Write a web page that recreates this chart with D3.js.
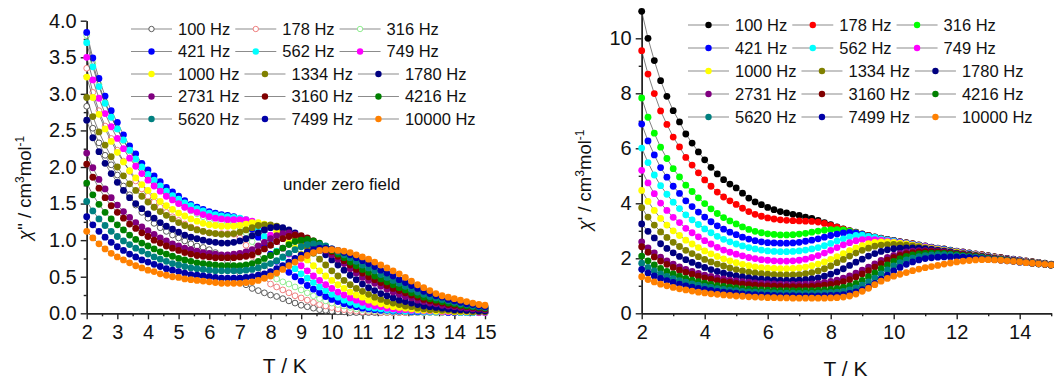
<!DOCTYPE html>
<html>
<head>
<meta charset="utf-8">
<script src="https://cdn.jsdelivr.net/npm/d3@7/dist/d3.min.js"></script>
<style>
  body { margin: 0; background: #fff; }
  svg { display: block; font-family: "Liberation Sans", Arial, sans-serif; }
</style>
</head>
<body>
<svg id="chart"></svg>
<script>
var W = 1054, H = 379;

// temperature grid (K)
var temps = [2.0,2.2,2.4,2.6,2.8,3.0,3.2,3.4,3.6,3.8,
  4.0,4.2,4.4,4.6,4.8,5.0,5.2,5.4,5.6,5.8,
  6.0,6.2,6.4,6.6,6.8,7.0,7.2,7.4,7.6,7.8,
  8.0,8.2,8.4,8.6,8.8,9.0,9.2,9.4,9.6,9.8,
  10.0,10.2,10.4,10.6,10.8,11.0,11.2,11.4,11.6,11.8,
  12.0,12.2,12.4,12.6,12.8,13.0,13.2,13.4,13.6,13.8,
  14.0,14.2,14.4,14.6,14.8,15.0];

var freqs = ['100 Hz','178 Hz','316 Hz','421 Hz','562 Hz','749 Hz','1000 Hz','1334 Hz','1780 Hz',
  '2731 Hz','3160 Hz','4216 Hz','5620 Hz','7499 Hz','10000 Hz'];

// chi'' (left panel)
var chi2_100 = [2.83,2.53,2.33,2.16,2.03,1.89,1.74,1.62,1.48,1.38,
  1.30,1.23,1.17,1.12,1.07,1.03,0.99,0.95,0.92,0.90,
  0.87,0.83,0.78,0.71,0.61,0.48,0.39,0.34,0.31,0.28,
  0.25,0.23,0.20,0.17,0.14,0.11,0.09,0.07,0.05,0.04,
  0.03,0.02,0.02,0.01,0.01,0.01,0.01,0.01,0.01,0.01,
  0.01,0.01,0.01,0.01,0.01,0.01,0.01,0.01,0.01,0.01,
  0.01,0.01,0.01,0.01,0.01,0.01];
var chi2_178 = [3.35,3.02,2.77,2.56,2.39,2.23,2.08,1.94,1.81,1.70,
  1.60,1.52,1.45,1.38,1.32,1.27,1.22,1.18,1.15,1.12,
  1.10,1.09,1.09,1.09,1.08,1.03,0.93,0.78,0.62,0.48,
  0.40,0.36,0.32,0.28,0.24,0.21,0.18,0.15,0.12,0.10,
  0.08,0.06,0.05,0.04,0.03,0.02,0.02,0.02,0.01,0.01,
  0.01,0.01,0.01,0.01,0.01,0.01,0.01,0.01,0.01,0.01,
  0.01,0.01,0.01,0.01,0.01,0.01];
var chi2_316 = [3.80,3.42,3.13,2.89,2.69,2.52,2.36,2.22,2.09,1.97,
  1.87,1.78,1.70,1.62,1.56,1.50,1.45,1.40,1.36,1.32,
  1.29,1.27,1.25,1.24,1.22,1.18,1.10,0.98,0.83,0.68,
  0.55,0.47,0.43,0.40,0.36,0.32,0.28,0.24,0.20,0.17,
  0.14,0.12,0.10,0.08,0.06,0.05,0.04,0.03,0.03,0.02,
  0.02,0.02,0.02,0.01,0.01,0.01,0.01,0.01,0.01,0.01,
  0.01,0.01,0.01,0.01,0.01,0.01];
var chi2_421 = [3.84,3.49,3.21,2.97,2.77,2.61,2.44,2.29,2.18,2.05,
  1.96,1.88,1.80,1.72,1.66,1.60,1.54,1.49,1.45,1.42,
  1.39,1.37,1.35,1.34,1.32,1.29,1.24,1.15,1.04,0.92,
  0.81,0.71,0.63,0.56,0.50,0.44,0.38,0.33,0.28,0.23,
  0.19,0.16,0.13,0.11,0.09,0.07,0.06,0.05,0.04,0.04,
  0.03,0.03,0.03,0.02,0.02,0.02,0.02,0.02,0.02,0.01,
  0.01,0.01,0.01,0.01,0.01,0.01];
var chi2_562 = [3.70,3.37,3.10,2.87,2.68,2.52,2.37,2.23,2.11,2.00,
  1.90,1.82,1.74,1.67,1.61,1.56,1.51,1.47,1.43,1.40,
  1.37,1.35,1.33,1.32,1.31,1.30,1.28,1.23,1.15,1.05,
  0.95,0.85,0.76,0.68,0.61,0.54,0.48,0.42,0.36,0.31,
  0.26,0.22,0.18,0.15,0.12,0.10,0.08,0.07,0.06,0.05,
  0.04,0.04,0.03,0.03,0.03,0.02,0.02,0.02,0.02,0.02,
  0.02,0.01,0.01,0.01,0.01,0.01];
var chi2_749 = [3.50,3.19,2.94,2.73,2.55,2.39,2.25,2.12,2.01,1.91,
  1.82,1.74,1.67,1.60,1.55,1.50,1.45,1.41,1.38,1.35,
  1.32,1.30,1.29,1.28,1.28,1.28,1.28,1.26,1.22,1.15,
  1.07,0.98,0.89,0.81,0.73,0.65,0.58,0.51,0.45,0.39,
  0.34,0.29,0.25,0.21,0.18,0.15,0.12,0.10,0.09,0.07,
  0.06,0.05,0.05,0.04,0.04,0.03,0.03,0.03,0.02,0.02,
  0.02,0.02,0.02,0.02,0.01,0.01];
var chi2_1000 = [3.23,2.95,2.72,2.52,2.35,2.20,2.07,1.95,1.85,1.76,
  1.68,1.60,1.53,1.47,1.42,1.37,1.33,1.29,1.26,1.23,
  1.21,1.20,1.19,1.19,1.19,1.20,1.22,1.24,1.24,1.22,
  1.18,1.12,1.05,0.97,0.89,0.81,0.73,0.65,0.58,0.51,
  0.45,0.39,0.34,0.29,0.25,0.22,0.18,0.15,0.13,0.11,
  0.09,0.08,0.07,0.06,0.05,0.04,0.04,0.03,0.03,0.03,
  0.02,0.02,0.02,0.02,0.02,0.02];
var chi2_1334 = [2.95,2.69,2.48,2.30,2.14,2.00,1.88,1.77,1.68,1.60,
  1.52,1.45,1.39,1.34,1.29,1.24,1.20,1.17,1.14,1.12,
  1.10,1.09,1.08,1.08,1.09,1.11,1.14,1.17,1.20,1.21,
  1.21,1.19,1.15,1.10,1.04,0.97,0.90,0.82,0.74,0.66,
  0.58,0.51,0.45,0.39,0.34,0.30,0.26,0.22,0.19,0.16,
  0.14,0.12,0.10,0.09,0.07,0.06,0.05,0.05,0.04,0.04,
  0.03,0.03,0.03,0.02,0.02,0.02];
var chi2_1780 = [2.64,2.40,2.21,2.05,1.91,1.79,1.68,1.58,1.50,1.43,
  1.36,1.30,1.24,1.19,1.15,1.11,1.07,1.04,1.02,1.00,
  0.98,0.97,0.96,0.96,0.97,0.99,1.02,1.06,1.10,1.14,
  1.17,1.18,1.17,1.14,1.10,1.05,0.99,0.93,0.86,0.80,
  0.73,0.66,0.59,0.52,0.46,0.40,0.35,0.31,0.27,0.24,
  0.21,0.18,0.16,0.14,0.12,0.10,0.09,0.08,0.07,0.06,
  0.05,0.05,0.04,0.04,0.03,0.03];
var chi2_2731 = [2.19,1.99,1.83,1.70,1.58,1.48,1.39,1.31,1.24,1.18,
  1.13,1.08,1.03,0.99,0.95,0.92,0.89,0.87,0.85,0.83,
  0.82,0.81,0.80,0.80,0.81,0.82,0.84,0.87,0.92,0.97,
  1.02,1.06,1.09,1.10,1.08,1.05,1.01,0.96,0.91,0.86,
  0.80,0.74,0.68,0.61,0.55,0.49,0.45,0.41,0.37,0.33,
  0.29,0.26,0.23,0.21,0.18,0.16,0.14,0.13,0.11,0.10,
  0.09,0.08,0.07,0.06,0.06,0.05];
var chi2_3160 = [2.04,1.86,1.71,1.58,1.47,1.38,1.30,1.22,1.16,1.10,
  1.05,1.00,0.96,0.92,0.89,0.86,0.83,0.81,0.79,0.78,
  0.77,0.76,0.76,0.76,0.76,0.77,0.78,0.80,0.84,0.88,
  0.93,0.98,1.02,1.05,1.07,1.06,1.03,0.99,0.94,0.89,
  0.84,0.78,0.72,0.66,0.60,0.55,0.50,0.46,0.42,0.38,
  0.34,0.31,0.28,0.25,0.22,0.19,0.17,0.15,0.14,0.12,
  0.11,0.10,0.09,0.08,0.07,0.06];
var chi2_4216 = [1.78,1.62,1.49,1.38,1.29,1.21,1.14,1.07,1.01,0.96,
  0.92,0.88,0.84,0.81,0.78,0.75,0.73,0.71,0.69,0.68,
  0.67,0.66,0.65,0.65,0.65,0.65,0.66,0.68,0.71,0.75,
  0.79,0.84,0.89,0.94,0.98,1.00,1.01,0.99,0.96,0.91,
  0.86,0.81,0.76,0.70,0.65,0.60,0.56,0.51,0.47,0.43,
  0.39,0.35,0.32,0.28,0.25,0.22,0.20,0.18,0.16,0.14,
  0.13,0.11,0.10,0.09,0.08,0.07];
var chi2_5620 = [1.53,1.40,1.29,1.20,1.12,1.05,0.99,0.94,0.89,0.85,
  0.81,0.77,0.74,0.71,0.68,0.66,0.64,0.62,0.61,0.60,
  0.59,0.58,0.58,0.58,0.58,0.58,0.59,0.60,0.62,0.65,
  0.68,0.72,0.77,0.82,0.87,0.91,0.94,0.95,0.94,0.92,
  0.88,0.84,0.80,0.76,0.71,0.66,0.62,0.58,0.53,0.49,
  0.45,0.41,0.37,0.33,0.29,0.26,0.23,0.21,0.19,0.17,
  0.15,0.13,0.12,0.10,0.09,0.08];
var chi2_7499 = [1.32,1.21,1.12,1.04,0.97,0.91,0.86,0.81,0.77,0.73,
  0.70,0.67,0.64,0.61,0.59,0.57,0.55,0.53,0.52,0.51,
  0.50,0.49,0.48,0.48,0.48,0.48,0.49,0.50,0.52,0.54,
  0.57,0.61,0.65,0.70,0.75,0.80,0.84,0.87,0.89,0.89,
  0.88,0.86,0.83,0.80,0.76,0.72,0.68,0.64,0.59,0.55,
  0.51,0.46,0.42,0.38,0.34,0.30,0.27,0.24,0.22,0.19,
  0.17,0.15,0.13,0.12,0.10,0.09];
var chi2_10000 = [1.12,1.03,0.95,0.88,0.82,0.77,0.73,0.69,0.65,0.62,
  0.59,0.57,0.54,0.52,0.50,0.49,0.47,0.46,0.45,0.44,
  0.43,0.42,0.41,0.41,0.41,0.41,0.42,0.43,0.45,0.48,
  0.51,0.55,0.60,0.65,0.70,0.75,0.79,0.83,0.86,0.87,
  0.87,0.86,0.85,0.83,0.80,0.77,0.74,0.70,0.66,0.62,
  0.58,0.54,0.49,0.44,0.39,0.35,0.31,0.27,0.24,0.22,
  0.20,0.18,0.16,0.14,0.12,0.11];

// chi' (right panel)
var chi1_100 = [10.98,10.00,9.19,8.46,7.89,7.37,6.96,6.52,6.19,5.87,
  5.58,5.31,5.07,4.86,4.70,4.56,4.37,4.19,4.05,3.95,
  3.85,3.77,3.70,3.65,3.60,3.56,3.50,3.45,3.38,3.30,
  3.22,3.14,3.07,3.01,2.95,2.89,2.83,2.78,2.73,2.69,
  2.65,2.61,2.57,2.53,2.49,2.45,2.41,2.37,2.34,2.30,
  2.26,2.23,2.20,2.16,2.13,2.10,2.06,2.03,2.00,1.97,
  1.94,1.91,1.88,1.85,1.82,1.79];
var chi1_178 = [9.55,8.70,7.99,7.36,6.87,6.41,6.05,5.67,5.39,5.11,
  4.85,4.62,4.41,4.23,4.09,3.96,3.82,3.70,3.60,3.53,
  3.47,3.43,3.40,3.38,3.37,3.36,3.35,3.34,3.32,3.27,
  3.20,3.13,3.06,3.00,2.94,2.88,2.82,2.77,2.72,2.68,
  2.64,2.60,2.56,2.52,2.48,2.44,2.40,2.36,2.33,2.29,
  2.25,2.22,2.19,2.15,2.12,2.09,2.05,2.02,1.99,1.96,
  1.93,1.90,1.87,1.84,1.81,1.78];
var chi1_316 = [7.83,7.13,6.55,6.04,5.63,5.26,4.96,4.66,4.43,4.20,
  3.99,3.80,3.63,3.48,3.36,3.25,3.14,3.05,2.98,2.93,
  2.89,2.87,2.85,2.85,2.86,2.88,2.91,2.95,2.99,3.02,
  3.04,3.04,3.03,2.99,2.93,2.87,2.81,2.76,2.71,2.67,
  2.63,2.59,2.55,2.51,2.47,2.43,2.39,2.35,2.32,2.28,
  2.24,2.21,2.18,2.14,2.11,2.08,2.04,2.01,1.98,1.95,
  1.92,1.89,1.86,1.83,1.80,1.77];
var chi1_421 = [6.88,6.27,5.76,5.30,4.95,4.62,4.36,4.09,3.88,3.68,
  3.50,3.33,3.18,3.06,2.95,2.86,2.77,2.70,2.64,2.60,
  2.57,2.56,2.55,2.55,2.56,2.58,2.62,2.66,2.71,2.77,
  2.83,2.88,2.92,2.94,2.92,2.87,2.81,2.76,2.71,2.67,
  2.63,2.59,2.55,2.51,2.47,2.43,2.39,2.35,2.32,2.28,
  2.24,2.21,2.18,2.14,2.11,2.08,2.04,2.01,1.98,1.95,
  1.92,1.89,1.86,1.83,1.80,1.77];
var chi1_562 = [6.01,5.48,5.03,4.64,4.33,4.04,3.81,3.58,3.40,3.23,
  3.07,2.93,2.80,2.69,2.60,2.52,2.45,2.39,2.34,2.30,
  2.27,2.25,2.24,2.24,2.25,2.27,2.30,2.34,2.39,2.46,
  2.54,2.63,2.71,2.78,2.83,2.84,2.80,2.76,2.71,2.66,
  2.62,2.58,2.54,2.50,2.46,2.42,2.38,2.35,2.31,2.27,
  2.23,2.20,2.17,2.13,2.10,2.07,2.03,2.00,1.97,1.94,
  1.91,1.88,1.85,1.82,1.79,1.76];
var chi1_749 = [5.20,4.74,4.35,4.01,3.74,3.49,3.30,3.09,2.93,2.78,
  2.64,2.52,2.40,2.30,2.22,2.15,2.09,2.03,1.99,1.95,
  1.93,1.91,1.90,1.90,1.91,1.93,1.97,2.03,2.10,2.19,
  2.29,2.39,2.49,2.57,2.64,2.68,2.69,2.68,2.66,2.63,
  2.60,2.57,2.53,2.49,2.45,2.42,2.38,2.34,2.30,2.26,
  2.23,2.20,2.16,2.13,2.10,2.06,2.03,2.00,1.97,1.94,
  1.91,1.88,1.85,1.82,1.79,1.76];
var chi1_1000 = [4.47,4.07,3.74,3.45,3.21,3.00,2.83,2.66,2.52,2.39,
  2.27,2.16,2.07,1.98,1.91,1.84,1.78,1.73,1.69,1.66,
  1.64,1.63,1.62,1.62,1.63,1.65,1.68,1.73,1.79,1.87,
  1.96,2.06,2.17,2.28,2.38,2.46,2.53,2.58,2.60,2.60,
  2.58,2.55,2.52,2.48,2.44,2.40,2.36,2.32,2.29,2.25,
  2.22,2.18,2.15,2.12,2.09,2.05,2.02,1.99,1.96,1.93,
  1.90,1.87,1.85,1.82,1.79,1.76];
var chi1_1334 = [3.84,3.50,3.21,2.96,2.76,2.58,2.43,2.29,2.17,2.06,
  1.96,1.87,1.79,1.72,1.65,1.59,1.54,1.50,1.47,1.44,
  1.42,1.41,1.40,1.40,1.40,1.41,1.44,1.48,1.54,1.62,
  1.72,1.84,1.96,2.08,2.19,2.29,2.37,2.44,2.48,2.50,
  2.51,2.50,2.48,2.45,2.42,2.38,2.34,2.31,2.27,2.24,
  2.20,2.17,2.14,2.11,2.08,2.04,2.01,1.98,1.95,1.92,
  1.90,1.87,1.84,1.81,1.79,1.76];
var chi1_1780 = [3.25,2.98,2.74,2.53,2.36,2.20,2.07,1.95,1.85,1.75,
  1.67,1.59,1.52,1.46,1.41,1.36,1.32,1.29,1.26,1.24,
  1.22,1.21,1.20,1.20,1.20,1.21,1.22,1.25,1.29,1.35,
  1.42,1.51,1.62,1.74,1.86,1.97,2.08,2.17,2.25,2.31,
  2.35,2.37,2.38,2.38,2.37,2.35,2.32,2.29,2.26,2.23,
  2.19,2.16,2.13,2.10,2.07,2.04,2.01,1.98,1.95,1.92,
  1.89,1.86,1.84,1.81,1.78,1.76];
var chi1_2731 = [2.60,2.38,2.20,2.04,1.91,1.79,1.69,1.60,1.52,1.45,
  1.39,1.34,1.29,1.25,1.21,1.18,1.15,1.13,1.11,1.09,
  1.08,1.07,1.06,1.05,1.05,1.05,1.06,1.07,1.09,1.12,
  1.16,1.21,1.28,1.36,1.46,1.57,1.68,1.80,1.92,2.03,
  2.11,2.18,2.23,2.26,2.28,2.28,2.27,2.25,2.23,2.20,
  2.17,2.14,2.11,2.08,2.05,2.03,2.00,1.97,1.94,1.92,
  1.89,1.86,1.83,1.81,1.78,1.76];
var chi1_3160 = [2.42,2.22,2.05,1.90,1.78,1.67,1.57,1.49,1.42,1.35,
  1.29,1.24,1.19,1.15,1.12,1.09,1.06,1.04,1.02,1.01,
  1.00,0.99,0.98,0.97,0.97,0.97,0.97,0.98,1.00,1.02,
  1.05,1.09,1.15,1.22,1.32,1.43,1.55,1.68,1.81,1.93,
  2.03,2.11,2.17,2.21,2.23,2.24,2.24,2.23,2.21,2.19,
  2.16,2.13,2.10,2.08,2.05,2.02,1.99,1.97,1.94,1.91,
  1.88,1.86,1.83,1.80,1.78,1.76];
var chi1_4216 = [2.08,1.91,1.76,1.63,1.52,1.43,1.35,1.27,1.21,1.15,
  1.10,1.05,1.01,0.98,0.95,0.92,0.90,0.88,0.86,0.85,
  0.84,0.83,0.82,0.82,0.82,0.82,0.82,0.82,0.83,0.85,
  0.87,0.90,0.94,1.00,1.09,1.20,1.33,1.47,1.62,1.76,
  1.89,1.99,2.07,2.12,2.16,2.18,2.19,2.19,2.18,2.16,
  2.14,2.11,2.09,2.06,2.04,2.01,1.98,1.96,1.93,1.91,
  1.88,1.85,1.83,1.80,1.78,1.76];
var chi1_5620 = [1.82,1.67,1.54,1.43,1.34,1.26,1.19,1.13,1.07,1.02,
  0.98,0.94,0.90,0.87,0.84,0.82,0.80,0.78,0.77,0.76,
  0.75,0.74,0.73,0.73,0.73,0.72,0.72,0.72,0.73,0.74,
  0.75,0.77,0.80,0.85,0.92,1.02,1.14,1.28,1.43,1.58,
  1.72,1.84,1.94,2.01,2.06,2.10,2.12,2.13,2.13,2.12,
  2.10,2.08,2.06,2.04,2.02,1.99,1.97,1.95,1.92,1.90,
  1.87,1.85,1.82,1.80,1.78,1.76];
var chi1_7499 = [1.60,1.47,1.36,1.27,1.19,1.12,1.06,1.00,0.95,0.91,
  0.87,0.83,0.80,0.77,0.75,0.73,0.71,0.69,0.68,0.67,
  0.66,0.65,0.64,0.64,0.64,0.63,0.63,0.63,0.63,0.64,
  0.65,0.66,0.68,0.72,0.78,0.86,0.96,1.09,1.24,1.39,
  1.54,1.67,1.78,1.87,1.94,1.99,2.02,2.04,2.05,2.05,
  2.05,2.04,2.03,2.01,1.99,1.97,1.95,1.93,1.91,1.89,
  1.86,1.84,1.82,1.80,1.78,1.76];
var chi1_10000 = [1.33,1.23,1.14,1.06,1.00,0.94,0.89,0.85,0.81,0.77,
  0.74,0.71,0.69,0.67,0.65,0.63,0.62,0.60,0.59,0.58,
  0.57,0.57,0.56,0.56,0.55,0.55,0.55,0.55,0.55,0.55,
  0.56,0.57,0.59,0.63,0.70,0.80,0.91,1.04,1.17,1.27,
  1.35,1.42,1.48,1.55,1.61,1.66,1.70,1.74,1.79,1.83,
  1.87,1.90,1.92,1.94,1.95,1.95,1.94,1.93,1.91,1.89,
  1.87,1.84,1.82,1.80,1.78,1.76];

var leftSeries = [chi2_100, chi2_178, chi2_316, chi2_421, chi2_562, chi2_749, chi2_1000, chi2_1334,
  chi2_1780, chi2_2731, chi2_3160, chi2_4216, chi2_5620, chi2_7499, chi2_10000];
var rightSeries = [chi1_100, chi1_178, chi1_316, chi1_421, chi1_562, chi1_749, chi1_1000, chi1_1334,
  chi1_1780, chi1_2731, chi1_3160, chi1_4216, chi1_5620, chi1_7499, chi1_10000];

var leftXTicks = [2,3,4,5,6,7,8,9,10,11,12,13,14,15];
var leftYTicks = [0,0.5,1.0,1.5,2.0,2.5,3.0,3.5,4.0];
var rightXTicks = [2,4,6,8,10,12,14];
var rightYTicks = [0,2,4,6,8,10];

var colorsLeft = ['#5a5a5a','#f08080','#90ee90','#0000ff','#00ffff','#ff00ff','#ffff00','#808000',
  '#000080','#800080','#800000','#008000','#008080','#0000a8','#ff8000'];
var colorsRight = ['#000000','#ff0000','#00ff00','#0000ff','#00ffff','#ff00ff','#ffff00','#808000',
  '#000080','#800080','#800000','#008000','#008080','#0000a8','#ff8000'];
var hollowLeft = [true, true, true];

var svg = d3.select('#chart').attr('width', W).attr('height', H);

function styleAxis(g, fs) {
  g.select('.domain').attr('stroke', '#222').attr('stroke-width', 1.4);
  g.selectAll('.tick line').attr('stroke', '#222').attr('stroke-width', 1.4);
  g.selectAll('.tick text').attr('fill', '#111').style('font-size', fs + 'px')
    .style('font-family', '"Liberation Sans", Arial, sans-serif');
}

function panel(opt) {
  var g = svg.append('g');
  var x = d3.scaleLinear().domain([2, 15]).range(opt.xr);
  var y = d3.scaleLinear().domain(opt.yd).range(opt.yr);

  var xMinor = g.append('g').attr('transform', 'translate(0,' + opt.yr[0] + ')')
    .call(d3.axisBottom(x).tickValues(opt.xMinor).tickSize(3).tickFormat('').tickSizeOuter(0));
  styleAxis(xMinor, 20);
  var yMinor = g.append('g').attr('transform', 'translate(' + opt.xr[0] + ',0)')
    .call(d3.axisLeft(y).tickValues(opt.yMinor).tickSize(3).tickFormat('').tickSizeOuter(0));
  styleAxis(yMinor, 20);

  var xa = g.append('g').attr('transform', 'translate(0,' + opt.yr[0] + ')')
    .call(d3.axisBottom(x).tickValues(opt.xTicks).tickSize(6).tickPadding(6).tickSizeOuter(0)
      .tickFormat(d3.format('d')));
  styleAxis(xa, 20);
  var ya = g.append('g').attr('transform', 'translate(' + opt.xr[0] + ',0)')
    .call(d3.axisLeft(y).tickValues(opt.yTicks).tickSize(6).tickPadding(4).tickSizeOuter(0)
      .tickFormat(opt.yFmt));
  styleAxis(ya, 20);

  var line = d3.line().x(function (d) { return x(d[0]); }).y(function (d) { return y(d[1]); });

  opt.series.forEach(function (vals, i) {
    var pts = temps.map(function (t, j) { return [t, vals[j]]; });
    var s = g.append('g');
    s.append('path').datum(pts).attr('d', line).attr('fill', 'none')
      .attr('stroke', '#4a4a4a').attr('stroke-width', 0.7);
    var open = opt.hollow[i] === true;
    s.selectAll('circle').data(pts).enter().append('circle')
      .attr('cx', function (d) { return x(d[0]); })
      .attr('cy', function (d) { return y(d[1]); })
      .attr('r', open ? 2.9 : 3.4)
      .attr('fill', open ? '#fff' : opt.colors[i])
      .attr('stroke', open ? opt.colors[i] : 'none')
      .attr('stroke-width', 1);
  });

  // legend: three entries per row, flowing after each label
  var lg = g.append('g');
  opt.legendRows.forEach(function (ry, r) {
    var cx = opt.legendX;
    for (var c = 0; c < 3; c++) {
      var i = r * 3 + c;
      var open = opt.hollow[i] === true;
      lg.append('line').attr('x1', cx).attr('x2', cx + 41).attr('y1', ry).attr('y2', ry)
        .attr('stroke', '#8c8c8c').attr('stroke-width', 1.2);
      lg.append('circle').attr('cx', cx + 20.5).attr('cy', ry).attr('r', open ? 2.7 : 3.2)
        .attr('fill', open ? '#fff' : opt.colors[i])
        .attr('stroke', open ? opt.colors[i] : 'none').attr('stroke-width', 1);
      var t = lg.append('text').attr('x', cx + 47).attr('y', ry).attr('dy', '0.36em')
        .style('font-size', '16.5px').attr('fill', '#111').text(freqs[i]);
      cx = cx + 47 + t.node().getComputedTextLength() + 5;
    }
  });

  // axis titles
  g.append('text').attr('x', (opt.xr[0] + opt.xr[1]) / 2 - opt.xTitleShift).attr('y', opt.xTitleY)
    .attr('text-anchor', 'middle').style('font-size', '21px').attr('fill', '#111').text('T / K');

  var yt = g.append('text')
    .attr('transform', 'translate(' + opt.yTitle[0] + ',' + opt.yTitle[1] + ') rotate(-90)')
    .attr('text-anchor', 'middle').style('font-size', '18.5px').attr('fill', '#111');
  yt.append('tspan').style('font-style', 'italic').text('\u03c7');
  yt.append('tspan').text(opt.primes + ' / cm');
  yt.append('tspan').attr('dy', -7).style('font-size', '12px').text('3');
  yt.append('tspan').attr('dy', 7).text('mol');
  yt.append('tspan').attr('dy', -7).style('font-size', '12px').text('-1');

  return g;
}

panel({
  xr: [86.7, 485], yd: [0, 4], yr: [313.3, 20.7],
  xTicks: leftXTicks, xMinor: d3.range(2.5, 15, 1),
  yTicks: leftYTicks, yMinor: [0.25, 0.75, 1.25, 1.75, 2.25, 2.75, 3.25, 3.75],
  yFmt: d3.format('.1f'),
  series: leftSeries, colors: colorsLeft, hollow: hollowLeft,
  legendX: 131, legendRows: [29, 51.5, 74, 96.5, 119],
  xTitleY: 373, xTitleShift: 1, yTitle: [31, 188], primes: "''"
});

panel({
  xr: [641.7, 1051.2], yd: [0, 11], yr: [313.3, 10.8],
  xTicks: rightXTicks, xMinor: [3, 5, 7, 9, 11, 13, 15],
  yTicks: rightYTicks, yMinor: [1, 3, 5, 7, 9, 11],
  yFmt: d3.format('d'),
  series: rightSeries, colors: colorsRight, hollow: [],
  legendX: 688, legendRows: [25, 48, 71, 94, 117],
  xTitleY: 376, xTitleShift: 1, yTitle: [591, 180], primes: "'"
});

svg.append('text').attr('x', 283).attr('y', 190).style('font-size', '17px').attr('fill', '#111')
  .text('under zero field');
</script>
</body>
</html>
